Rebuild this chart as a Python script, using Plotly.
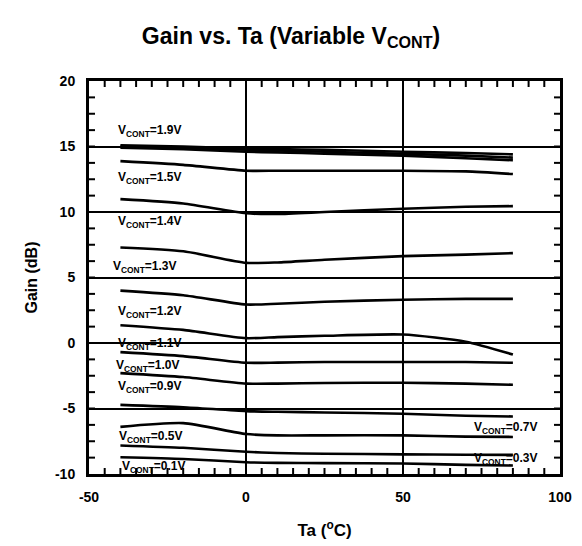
import plotly.graph_objects as go

temps = [-40, -20, 0, 10, 25, 50, 70, 85]

gain_19a = [15.1, 15.0, 14.85, 14.8, 14.75, 14.6, 14.5, 14.4]
gain_19b = [15.0, 14.9, 14.75, 14.7, 14.6, 14.45, 14.3, 14.15]
gain_19c = [14.9, 14.8, 14.6, 14.55, 14.45, 14.3, 14.1, 13.95]
gain_16 = [13.88, 13.6, 13.15, 13.15, 13.15, 13.15, 13.1, 12.9]
gain_15 = [10.98, 10.65, 9.9, 9.85, 10.0, 10.25, 10.4, 10.45]
gain_14 = [7.29, 7.0, 6.12, 6.15, 6.35, 6.63, 6.75, 6.86]
gain_13 = [4.0, 3.65, 2.94, 3.0, 3.15, 3.3, 3.37, 3.37]
gain_12 = [1.36, 1.0, 0.37, 0.45, 0.55, 0.65, 0.1, -0.88]
gain_11 = [-0.7, -1.0, -1.51, -1.5, -1.45, -1.45, -1.45, -1.51]
gain_10 = [-2.3, -2.6, -3.1, -3.1, -3.05, -3.04, -3.1, -3.19]
gain_09 = [-4.72, -4.9, -5.2, -5.25, -5.3, -5.4, -5.55, -5.61]
gain_07 = [-6.4, -6.12, -6.95, -7.05, -7.05, -7.05, -7.15, -7.17]
gain_05 = [-7.82, -8.0, -8.3, -8.4, -8.45, -8.5, -8.53, -8.54]
gain_03 = [-8.72, -8.85, -9.1, -9.15, -9.17, -9.2, -9.3, -9.35]

series = [gain_19a, gain_19b, gain_19c, gain_16, gain_15, gain_14, gain_13,
          gain_12, gain_11, gain_10, gain_09, gain_07, gain_05, gain_03]

label_text = ["1.9V", "1.5V", "1.4V", "1.3V", "1.2V", "1.1V", "1.0V",
              "0.9V", "0.7V", "0.5V", "0.3V", "0.1V"]
label_x = [-41.5, -41.5, -41.5, -43, -41.5, -41.5, -42, -41.5, 72, -41, 72, -40]
label_y = [16.2, 12.6, 9.2, 5.8, 2.35, -0.05, -1.75, -3.35, -6.45, -7.15, -8.85, -9.5]

x_tickvals = [-50, 0, 50, 100]
x_ticktext = ["-50", "0", "50", "100"]
y_tickvals = [-10, -5, 0, 5, 10, 15, 20]
y_ticktext = ["-10", "-5", "0", "5", "10", "15", "20"]
x_minor_step = 5
y_minor_step = 1.25

X_RANGE = [-50, 100]
Y_RANGE = [-10, 20]

FONT = "Liberation Sans, Arial, sans-serif"

fig = go.Figure()
for s in series:
    fig.add_trace(go.Scatter(x=temps, y=s, mode="lines",
                             line=dict(color="black", width=2.6, shape="spline", smoothing=0.6),
                             showlegend=False, hoverinfo="skip"))

for t, lx, ly in zip(label_text, label_x, label_y):
    fig.add_annotation(x=lx, y=ly, xref="x", yref="y", showarrow=False,
                       text="<b>V<sub>CONT</sub>=" + t + "</b>",
                       xanchor="left", yanchor="middle",
                       font=dict(family=FONT, size=12, color="black"))

# minor tick marks (inside, on all four sides) positioned on the axis scales
TICK_PX = 6
n_x = int(round((X_RANGE[1] - X_RANGE[0]) / x_minor_step))
n_y = int(round((Y_RANGE[1] - Y_RANGE[0]) / y_minor_step))
for i in range(1, n_x):
    v = X_RANGE[0] + i * x_minor_step
    for anchor, sign in ((0, 1), (1, -1)):
        fig.add_shape(type="line", xref="x", yref="y domain", x0=v, x1=v,
                      ysizemode="pixel", yanchor=anchor, y0=0, y1=sign * TICK_PX,
                      line=dict(color="black", width=2), layer="above")
for i in range(1, n_y):
    v = Y_RANGE[0] + i * y_minor_step
    for anchor, sign in ((0, 1), (1, -1)):
        fig.add_shape(type="line", xref="x domain", yref="y", y0=v, y1=v,
                      xsizemode="pixel", xanchor=anchor, x0=0, x1=sign * TICK_PX,
                      line=dict(color="black", width=2), layer="above")

axis_common = dict(
    showline=True, linecolor="black", linewidth=3, mirror="allticks",
    ticks="inside", ticklen=7, tickwidth=2, tickcolor="black",
    showgrid=True, gridcolor="black", gridwidth=2, zeroline=False,
    automargin=False,
    tickfont=dict(family=FONT, size=14, color="black", weight="bold"),
)

fig.update_layout(
    xaxis=dict(range=X_RANGE, tickmode="array", tickvals=x_tickvals, ticktext=x_ticktext,
               title=dict(text="<b>Ta (<sup>o</sup>C)</b>", font=dict(family=FONT, size=17, color="black"), standoff=21),
               ticklabelstandoff=8, **axis_common),
    yaxis=dict(range=Y_RANGE, tickmode="array", tickvals=y_tickvals, ticktext=y_ticktext,
               title=dict(text="<b>Gain (dB)</b>", font=dict(family=FONT, size=16, color="black"), standoff=14),
               ticklabelstandoff=8, **axis_common),
    width=582, height=546,
    margin=dict(l=89, r=22, t=81, b=72),
    plot_bgcolor="white", paper_bgcolor="white",
    title=dict(text="<b>Gain vs. Ta (Variable V<sub>CONT</sub>)</b>", x=0.5, xanchor="center",
               y=0.935, yanchor="middle",
               font=dict(family=FONT, size=23, color="black")),
)

fig.write_html("out.html")
